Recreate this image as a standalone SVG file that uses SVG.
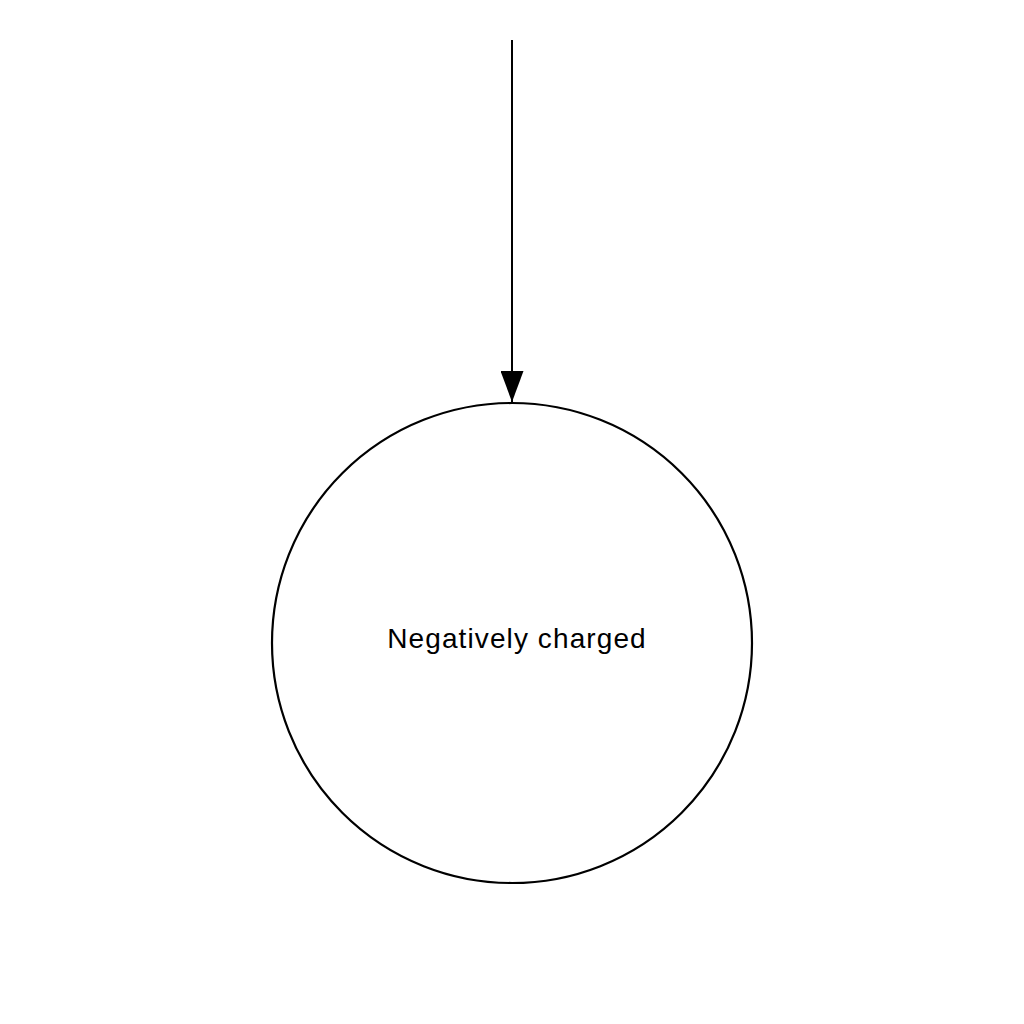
<svg xmlns="http://www.w3.org/2000/svg" width="1024" height="1024" viewBox="0 0 1024 1024">
<style>
.node{fill:none;stroke:#000;stroke-width:2.2}
.edge{stroke:#000;stroke-width:2;fill:none}
.lbl{font-family:"Liberation Sans",Arial,sans-serif;font-size:28px;letter-spacing:1.1px;fill:#000;text-anchor:middle}
</style>
<defs>
<marker id="arr" markerWidth="31" markerHeight="23" refX="31" refY="11.5" orient="auto" markerUnits="userSpaceOnUse" viewBox="0 0 31 23">
<path d="M0,0 L31,11.5 L0,23 Z" fill="#000"/>
</marker>
</defs>
<rect width="1024" height="1024" fill="#fff"/>
<g id="connectors">
<line class="edge" x1="512" y1="40" x2="512" y2="402" marker-end="url(#arr)"/>
</g>
<g id="node-negative">
<circle class="node" cx="512" cy="643" r="240"/>
<text class="lbl" x="517" y="648">Negatively charged</text>
</g>
</svg>
